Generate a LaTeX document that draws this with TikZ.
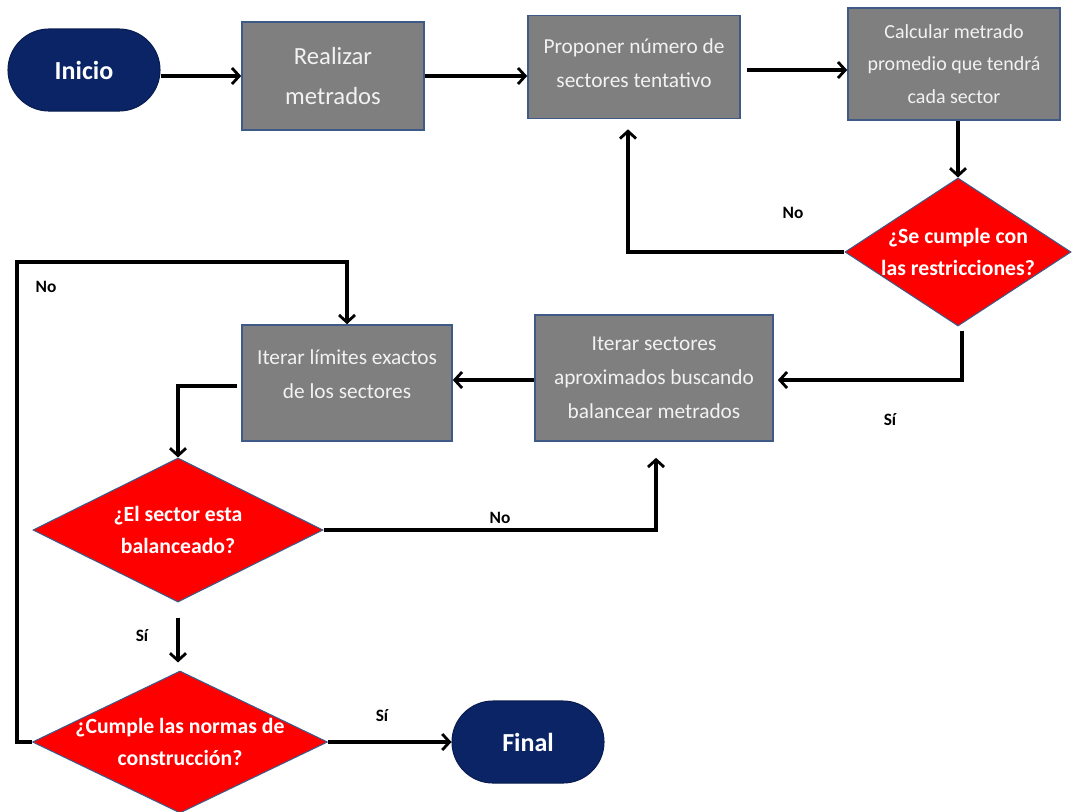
\documentclass[tikz,border=0pt]{standalone}
\usepackage{fontspec}
\setmainfont{Carlito}
\usetikzlibrary{shapes.geometric,shapes.misc,arrows.meta,calc}
\definecolor{navy}{HTML}{0A2465}
\definecolor{boxgray}{HTML}{7F7F7F}
\definecolor{boxline}{HTML}{3F5A86}
\definecolor{boxtext}{HTML}{F2F2F2}
\definecolor{dred}{HTML}{FF0000}
\tikzset{
  term/.style={rounded rectangle, fill=navy, draw=navy!80!black, line width=0.8pt, text=white,
     font=\fontsize{19.5}{22}\selectfont\bfseries, minimum width=152*0.75pt, minimum height=82*0.75pt, inner sep=0pt},
  procbox/.style={rectangle, fill=boxgray, draw=boxline, line width=1.2pt, text=boxtext, align=center,
     font=\fontsize{16}{25.5}\selectfont, inner sep=0pt},
  decis/.style={diamond, fill=dred, draw=boxline, line width=0.8pt, text=white, align=center,
     font=\fontsize{16.3}{23.5}\selectfont\bfseries, inner xsep=-22pt, inner ysep=-6pt, aspect=2},
  conn/.style={line width=2.3pt, -{Straight Barb[length=5.5pt,width=12pt,line width=2.1pt]}},
  lbl/.style={font=\fontsize{13}{15}\selectfont\bfseries, text=black},
}
\begin{document}
\begin{tikzpicture}[x=0.75pt,y=-0.75pt]
\fill[white] (0,0) rectangle (1074,811);
\useasboundingbox (0,0) rectangle (1074,811);

\node[term] (inicio) at (84,70) {Inicio};
\node[procbox, minimum width=182*0.75pt, minimum height=108*0.75pt, font=\fontsize{18.5}{30}\selectfont] (realizar) at (333,76) {Realizar\\metrados};
\node[procbox, minimum width=212*0.75pt, minimum height=103*0.75pt] (proponer) at (634,67) {Proponer número de\\sectores tentativo\\[-20pt]\mbox{}};
\node[procbox, minimum width=212*0.75pt, minimum height=112*0.75pt, font=\fontsize{15}{24.5}\selectfont] (calcular) at (954,64) {Calcular metrado\\promedio que tendrá\\cada sector};
\node[decis, minimum width=226*0.75pt, minimum height=148*0.75pt] (d1) at (958,252) {¿Se cumple con\\las restricciones?};
\node[procbox, minimum width=238*0.75pt, minimum height=126*0.75pt] (isect) at (654,378) {Iterar sectores\\aproximados buscando\\balancear metrados};
\node[procbox, minimum width=210*0.75pt, minimum height=116*0.75pt] (ilim) at (347,383) {Iterar límites exactos\\de los sectores\\[-12pt]\mbox{}};
\node[decis, minimum width=290*0.75pt, minimum height=144*0.75pt] (d2) at (178,530) {¿El sector esta\\balanceado?};
\node[decis, minimum width=295*0.75pt, minimum height=142*0.75pt] (d3) at (180,742) {¿Cumple las normas de\\construcción?};
\node[term] (final) at (528,742) {Final};

% connectors
\draw[conn] (inicio.east |- realizar.west) -- (realizar.west);
\draw[conn] (realizar.east) -- (realizar.east -| proponer.west);
\draw[conn,shorten <=5pt] (proponer.east) ++(0,3) coordinate (p1) -- (p1 -| calcular.west);
\draw[conn] (d1.north |- calcular.south) -- (d1.north);
\draw[conn] (d1.west) -| ($(proponer.south)+(-6,10)$) coordinate (p2);
\draw[conn] (d1.south) ++(4,4) coordinate (s1) |- ($(isect.east)+(4,2)$);
\draw[conn] (isect.west) ++(0,2) coordinate (s2) -- (s2 -| ilim.east);
\draw[conn] (ilim.west) ++(-4,3) coordinate (l1) -| (d2.north);
\draw[conn] (d2.east) -| ($(isect.south)+(2,16)$);
\draw[conn] ($(d2.south)+(0,15)$) -- ($(d3.north)+(-2,-8)$);
\draw[conn] (d3.east) -- (final.west);
\coordinate (c1) at (17,742);
\coordinate (c2) at (17,262);
\draw[conn] (d3.west) -- (c1) -- (c2) -| (ilim.north);

% labels
\node[lbl] (lno1) at (793,213) {No};
\node[lbl] (lsi1) at (890,420) {Sí};
\node[lbl] (lno2) at (500,518) {No};
\node[lbl] (lsi2) at (142,636) {Sí};
\node[lbl] (lsi3) at (382,716) {Sí};
\node[lbl] (lno3) at (46,287) {No};
\end{tikzpicture}
\end{document}
